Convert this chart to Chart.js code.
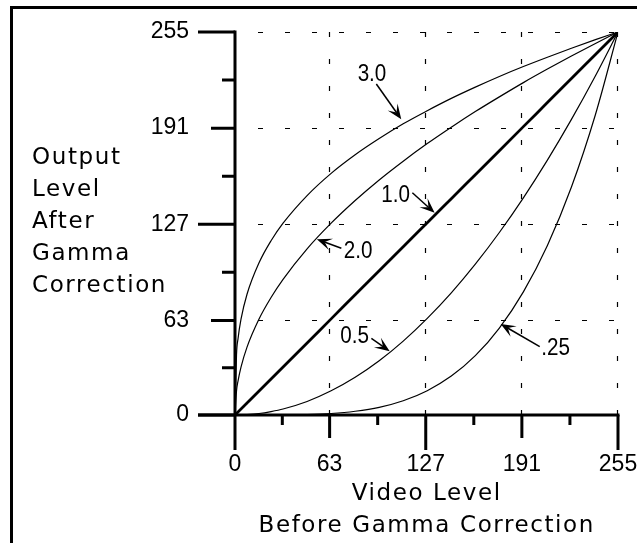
<!DOCTYPE html>
<html>
<head>
<meta charset="utf-8">
<script src="https://cdn.jsdelivr.net/npm/chart.js@4/dist/chart.umd.min.js"></script>
<style>
html, body { margin: 0; padding: 0; background: #fff; overflow: hidden; }
#wrap { position: relative; width: 637px; height: 543px; }
#chart { position: absolute; left: 0; top: 0; }
#frame { position: absolute; left: 10px; top: 6px; width: 700px; height: 700px;
         border-left: 3px solid #000; border-top: 3px solid #000; pointer-events: none; }
</style>
</head>
<body>
<div id="wrap">
  <canvas id="chart" width="637" height="543"></canvas>
  <div id="frame"></div>
</div>
<script>
// video level before correction (x) and output level for each gamma
var levels  = [0, 1, 2, 4, 8, 16, 24, 32, 48, 64, 80, 96, 112, 128, 144, 160, 176, 192, 208, 224, 240, 255];
var gamma30 = [0, 40.2, 50.7, 63.8, 80.4, 101.3, 116.0, 127.7, 146.1, 160.9, 173.3, 184.1, 193.9, 202.6, 210.8, 218.3, 225.4, 232.0, 238.2, 244.2, 249.9, 255];
var gamma20 = [0, 16.0, 22.6, 31.9, 45.2, 63.9, 78.2, 90.3, 110.6, 127.7, 142.8, 156.5, 169.0, 180.7, 191.6, 202.0, 211.8, 221.3, 230.3, 239.0, 247.4, 255];
var gamma10 = [0, 1, 2, 4, 8, 16, 24, 32, 48, 64, 80, 96, 112, 128, 144, 160, 176, 192, 208, 224, 240, 255];
var gamma05 = [0, 0, 0.02, 0.06, 0.25, 1.0, 2.3, 4.0, 9.0, 16.1, 25.1, 36.1, 49.2, 64.3, 81.3, 100.4, 121.5, 144.6, 169.7, 196.8, 225.9, 255];
var gamma025 = [0, 0, 0, 0, 0, 0, 0.02, 0.06, 0.3, 1.0, 2.5, 5.1, 9.5, 16.2, 25.9, 39.5, 57.9, 82.0, 112.9, 151.8, 200.1, 255];

var tickValues = [0, 63, 127, 191, 255];
var minorValues = [31.5, 95, 159, 223];

var curveNames = ['3.0', '2.0', '1.0', '0.5', '.25'];

// callouts: label centre, arrow start, arrow tip (data units)
var callouts = [
  { text: '3.0', at: [91.2, 222.4], from: [94.1, 220.4], to: [110.7, 196.9] },
  { text: '2.0', at: [81.9, 104.5], from: [70.8, 111.0], to: [54.5, 117.0] },
  { text: '1.0', at: [106.9, 142.0], from: [118.1, 148.0], to: [132.9, 134.6] },
  { text: '0.5', at: [79.6, 48.1], from: [90.8, 51.0], to: [103.0, 42.4] },
  { text: '.25', at: [213.4, 39.9], from: [202.9, 45.5], to: [176.9, 60.6] }
];

function pts(ys) {
  return levels.map(function (x, i) { return { x: x, y: ys[i] }; });
}

function arrow(ctx, x1, y1, x2, y2) {
  var a = Math.atan2(y2 - y1, x2 - x1), c = Math.cos(a), s = Math.sin(a);
  var L = 15, W = 6;
  ctx.beginPath();
  ctx.moveTo(x1, y1);
  ctx.lineTo(x2 - c * 8, y2 - s * 8);
  ctx.stroke();
  ctx.beginPath();
  ctx.moveTo(x2, y2);
  ctx.lineTo(x2 - L * c + W * s, y2 - L * s - W * c);
  ctx.lineTo(x2 - 0.55 * L * c, y2 - 0.55 * L * s);
  ctx.lineTo(x2 - L * c - W * s, y2 - L * s + W * c);
  ctx.closePath();
  ctx.fill();
}

var decor = {
  id: 'decor',
  beforeDatasetsDraw: function (chart) {
    var ctx = chart.ctx, sx = chart.scales.x, sy = chart.scales.y;
    var x0 = sx.getPixelForValue(0), x1 = sx.getPixelForValue(255);
    var y0 = sy.getPixelForValue(0), y1 = sy.getPixelForValue(255);
    ctx.save();
    ctx.strokeStyle = '#000';
    ctx.lineWidth = 1.2;
    ctx.setLineDash([5, 22]);
    tickValues.slice(1).forEach(function (v) {
      var px = Math.round(sx.getPixelForValue(v)) - 0.5;
      ctx.lineDashOffset = 0;
      ctx.beginPath(); ctx.moveTo(px, y1); ctx.lineTo(px, y0); ctx.stroke();
      var py = Math.round(sy.getPixelForValue(v)) + 0.5;
      ctx.lineDashOffset = 4;
      ctx.beginPath(); ctx.moveTo(x0, py); ctx.lineTo(x1, py); ctx.stroke();
    });
    ctx.restore();
  },
  afterDatasetsDraw: function (chart) {
    var ctx = chart.ctx, sx = chart.scales.x, sy = chart.scales.y;
    var x0 = sx.getPixelForValue(0), x1 = sx.getPixelForValue(255);
    var y0 = sy.getPixelForValue(0), y1 = sy.getPixelForValue(255);
    ctx.save();
    ctx.strokeStyle = '#000';
    ctx.fillStyle = '#000';
    ctx.lineWidth = 3;
    ctx.lineCap = 'butt';
    // axes
    ctx.beginPath();
    ctx.moveTo(x0, y1 - 1.5); ctx.lineTo(x0, y0 + 35);
    ctx.moveTo(x0 - 37, y0); ctx.lineTo(x1 + 1.5, y0);
    ctx.stroke();
    // major ticks
    tickValues.forEach(function (v, i) {
      var ly = i % 2 ? 24 : 37, lx = i % 2 ? 23 : 35;
      var py = sy.getPixelForValue(v), px = sx.getPixelForValue(v);
      ctx.beginPath();
      ctx.moveTo(x0 - ly, py); ctx.lineTo(x0, py);
      if (i > 0) { ctx.moveTo(px, y0); ctx.lineTo(px, y0 + lx); }
      ctx.stroke();
    });
    minorValues.forEach(function (v) {
      var py = sy.getPixelForValue(v), px = sx.getPixelForValue(v);
      ctx.beginPath();
      ctx.moveTo(x0 - 13, py); ctx.lineTo(x0, py);
      ctx.moveTo(px, y0); ctx.lineTo(px, y0 + 10);
      ctx.stroke();
    });
    // callouts (condensed look)
    ctx.lineWidth = 1.5;
    ctx.font = '24px "Liberation Sans Narrow", "Liberation Sans", sans-serif';
    ctx.textAlign = 'center';
    ctx.textBaseline = 'alphabetic';
    callouts.forEach(function (c) {
      arrow(ctx, sx.getPixelForValue(c.from[0]), sy.getPixelForValue(c.from[1]),
                 sx.getPixelForValue(c.to[0]), sy.getPixelForValue(c.to[1]));
      ctx.save();
      ctx.translate(sx.getPixelForValue(c.at[0]), sy.getPixelForValue(c.at[1]));
      ctx.scale(0.86, 1);
      ctx.fillText(c.text, 0, 0);
      ctx.restore();
    });
    // axis titles
    ctx.font = '23px "DejaVu Sans", sans-serif';
    ctx.letterSpacing = '1.6px';
    ctx.textAlign = 'left';
    ['Output', 'Level', 'After', 'Gamma', 'Correction'].forEach(function (t, i) {
      ctx.fillText(t, 32, 164 + i * 32);
    });
    ctx.textAlign = 'center';
    var cx = sx.getPixelForValue(127) + 1;
    ctx.fillText('Video Level', cx, 500);
    ctx.fillText('Before Gamma Correction', cx, 532);
    ctx.restore();
  }
};

function lineSet(name, ys, width) {
  return {
    label: name,
    data: pts(ys),
    borderColor: '#000',
    borderWidth: width,
    pointRadius: 0,
    fill: false,
    cubicInterpolationMode: 'monotone'
  };
}

function noPad(s) {
  s.paddingLeft = 0; s.paddingRight = 0; s.paddingTop = 0; s.paddingBottom = 0;
}

var tickFont = { family: '"Liberation Sans", Arial, sans-serif', size: 23 };

new Chart(document.getElementById('chart'), {
  type: 'line',
  data: {
    datasets: [
      lineSet(curveNames[0], gamma30, 1.2),
      lineSet(curveNames[1], gamma20, 1.2),
      lineSet(curveNames[2], gamma10, 2.8),
      lineSet(curveNames[3], gamma05, 1.2),
      lineSet(curveNames[4], gamma025, 1.2)
    ]
  },
  options: {
    responsive: false,
    animation: false,
    devicePixelRatio: 1,
    layout: { padding: { top: 32, right: 19, left: 0, bottom: 0 } },
    plugins: { legend: { display: false }, tooltip: { enabled: false } },
    scales: {
      x: {
        type: 'linear', min: 0, max: 255,
        afterBuildTicks: function (s) { s.ticks = tickValues.map(function (v) { return { value: v }; }); },
        afterFit: function (s) { s.height = 128; noPad(s); },
        ticks: { font: tickFont, color: '#000', padding: 36, maxRotation: 0, autoSkip: false },
        grid: { display: false, drawTicks: false },
        border: { display: false }
      },
      y: {
        type: 'linear', min: 0, max: 255,
        afterBuildTicks: function (s) { s.ticks = tickValues.map(function (v) { return { value: v }; }); },
        afterFit: function (s) { s.width = 235; noPad(s); },
        ticks: { font: tickFont, color: '#000', padding: 46, autoSkip: false },
        grid: { display: false, drawTicks: false },
        border: { display: false }
      }
    }
  },
  plugins: [decor]
});
</script>
</body>
</html>
